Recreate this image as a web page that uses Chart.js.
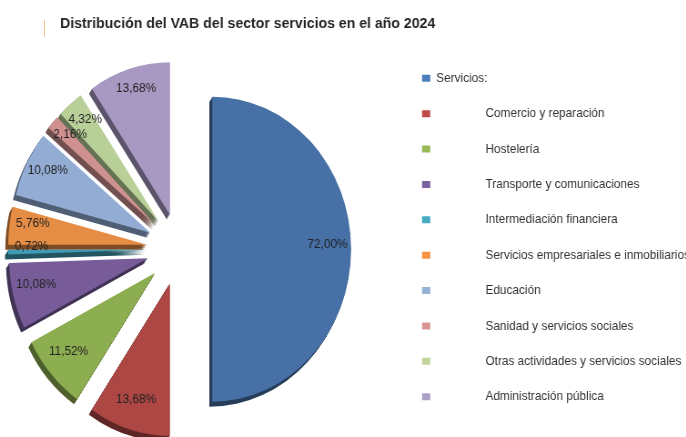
<!DOCTYPE html>
<html>
<head>
<meta charset="utf-8">
<script src="https://cdn.jsdelivr.net/npm/chart.js@4.4.1/dist/chart.umd.min.js"></script>
<style>
  html, body { margin: 0; padding: 0; background: #ffffff; overflow: hidden; }
  #wrap { position: relative; width: 686px; height: 437px; overflow: hidden; }
  #c { position: absolute; left: 0; top: 0; transform: scaleX(0.91); transform-origin: 0 0; }
  #accent { position: absolute; left: 44px; top: 20px; width: 1px; height: 17px; background: #f3c597; }
</style>
</head>
<body>
<div id="wrap">
  <canvas id="c" width="754" height="437"></canvas>
  <div id="accent"></div>
</div>
<script>
// ---- data ----
const chartTitle = 'Distribución del VAB del sector servicios en el año 2024';
const categories = [
  'Servicios:',
  'Comercio y reparación',
  'Hostelería',
  'Transporte y comunicaciones',
  'Intermediación financiera',
  'Servicios empresariales e inmobiliarios',
  'Educación',
  'Sanidad y servicios sociales',
  'Otras actividades y servicios sociales',
  'Administración pública'
];
const values = [72.00, 13.68, 11.52, 10.08, 0.72, 5.76, 10.08, 2.16, 4.32, 13.68];

// ---- styles ----
const faceColors   = ['#4670a6','#ad4744','#8dae50','#775c99','#3f9bb3','#e58c45','#93acd4','#cf9190','#b9cf98','#a899c2'];
const legendColors = ['#4a7ebb','#be4b48','#98b954','#7d60a0','#46aac5','#f69240','#94b1d6','#d89594','#c2d59a','#ad9ec6'];
const EXPLODE = 36;          // px each slice is pulled out
const DEPTH = { x: -3.3, y: 5, steps: 6 };
const LABEL_FRAC = 0.83;
const LABEL_DY = -5;
const PIE_AREA = { left: 0, right: 394.6 };   // horizontal extent of the pie's plot area

function shade(hex, f) {
  const n = parseInt(hex.slice(1), 16);
  const r = Math.round(((n >> 16) & 255) * f), g = Math.round(((n >> 8) & 255) * f), b = Math.round((n & 255) * f);
  return `rgb(${r},${g},${b})`;
}
const sideColors = faceColors.map(c => shade(c, 0.55));

const fmt = v => v.toFixed(2).replace('.', ',') + '%';

const explodedPie = {
  id: 'explodedPie',
  afterLayout(chart) {
    const ca = chart.chartArea;
    ca.left = PIE_AREA.left;
    ca.right = PIE_AREA.right;
    ca.width = ca.right - ca.left;
  },
  beforeDatasetDraw(chart, args) {
    const ctx = chart.ctx;
    const arcs = args.meta.data;
    // 3D side (depth)
    arcs.forEach((el, i) => {
      const mid = (el.startAngle + el.endAngle) / 2;
      const dx = Math.cos(mid) * EXPLODE, dy = Math.sin(mid) * EXPLODE;
      ctx.save();
      ctx.fillStyle = sideColors[i];
      for (let k = DEPTH.steps; k >= 1; k--) {
        const ox = el.x + dx + DEPTH.x * k / DEPTH.steps;
        const oy = el.y + dy + DEPTH.y * k / DEPTH.steps;
        ctx.beginPath();
        ctx.moveTo(ox, oy);
        ctx.arc(ox, oy, el.outerRadius, el.startAngle, el.endAngle);
        ctx.closePath();
        ctx.fill();
      }
      ctx.restore();
    });
    // top faces
    arcs.forEach((el) => {
      const mid = (el.startAngle + el.endAngle) / 2;
      ctx.save();
      ctx.translate(Math.cos(mid) * EXPLODE, Math.sin(mid) * EXPLODE);
      el.draw(ctx);
      ctx.restore();
    });
    return false;
  },
  afterDatasetsDraw(chart) {
    const ctx = chart.ctx;
    const meta = chart.getDatasetMeta(0);
    const ds = chart.data.datasets[0];
    ctx.save();
    ctx.font = '13px "Liberation Sans", Arial, sans-serif';
    ctx.fillStyle = '#222222';
    ctx.textAlign = 'center';
    ctx.textBaseline = 'middle';
    meta.data.forEach((el, i) => {
      const mid = (el.startAngle + el.endAngle) / 2;
      const L = EXPLODE + LABEL_FRAC * el.outerRadius;
      ctx.fillText(fmt(ds.data[i]), el.x + Math.cos(mid) * L, el.y + Math.sin(mid) * L + LABEL_DY);
    });
    ctx.restore();
  }
};

new Chart(document.getElementById('c'), {
  type: 'pie',
  data: {
    labels: categories,
    datasets: [{
      data: values,
      backgroundColor: faceColors,
      borderWidth: 0
    }]
  },
  options: {
    responsive: false,
    animation: false,
    events: [],
    radius: 152.5,
    layout: { padding: { left: 66, right: 0, top: 0, bottom: 11.4 } },
    plugins: {
      title: {
        display: true,
        text: chartTitle,
        align: 'start',
        color: '#262626',
        font: { family: '"Liberation Sans", Arial, sans-serif', size: 15.5, weight: 'bold', lineHeight: 1.2 },
        padding: { top: 14.2, bottom: 40 }
      },
      legend: {
        display: true,
        position: 'right',
        align: 'end',
        maxWidth: 312.6,
        labels: {
          boxWidth: 9,
          boxHeight: 7,
          padding: 22.38,
          color: '#333333',
          font: { family: '"Liberation Sans", Arial, sans-serif', size: 13 },
          generateLabels(chart) {
            const items = Chart.overrides.pie.plugins.legend.labels.generateLabels(chart);
            items.forEach((it, i) => {
              it.fillStyle = legendColors[i];
              it.lineWidth = 0;
              if (i > 0) it.text = ' '.repeat(15) + it.text;
            });
            return items;
          }
        }
      },
      tooltip: { enabled: false }
    }
  },
  plugins: [explodedPie]
});
</script>
</body>
</html>
